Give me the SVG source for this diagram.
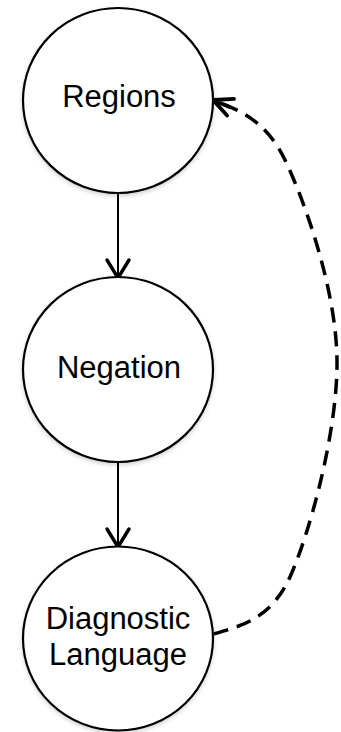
<svg xmlns="http://www.w3.org/2000/svg" width="341" height="732" viewBox="0 0 341 732">
<style>
.node{fill:#fff;stroke:#000;stroke-width:2.2;filter:url(#sh)}
.lbl{font-family:"Liberation Sans",Arial,Helvetica,sans-serif;font-size:31px;fill:#000;text-anchor:middle}
.edge{fill:none;stroke:#000;stroke-width:2}
.dash{fill:none;stroke:#000;stroke-width:3.5;stroke-dasharray:15 9}
</style>
<defs>
<filter id="sh" x="-20%" y="-20%" width="140%" height="140%">
<feDropShadow dx="0" dy="2" stdDeviation="2" flood-color="#000" flood-opacity="0.18"/>
</filter>
<marker id="arr" markerUnits="userSpaceOnUse" viewBox="-22 -14 26 28" refX="0" refY="0" markerWidth="26" markerHeight="28" orient="auto">
<path d="M-18,-11 L0,0 L-18,11" fill="none" stroke="#000" stroke-width="3.4" stroke-linecap="round" stroke-linejoin="round"/>
</marker>
<marker id="arr2" markerUnits="userSpaceOnUse" viewBox="-24 -14 28 28" refX="0" refY="0" markerWidth="28" markerHeight="28" orient="auto">
<path d="M-19,-9 L0,0 L-19,9 M-18,0 L0,0" fill="none" stroke="#000" stroke-width="3.8" stroke-linecap="round" stroke-linejoin="round"/>
</marker>
</defs>
<g id="connectors">
<path class="edge" d="M118,193 L118,278" marker-end="url(#arr)"/>
<path class="edge" d="M118,462 L118,547" marker-end="url(#arr)"/>
<path class="dash" d="M214,634 C234,627 269.5,622.7 290,577 C310.5,531.3 337.8,429.5 337,360 C336.2,290.5 305.7,203.3 285,160 C264.3,116.7 233,108.3 213,100" marker-end="url(#arr2)"/>
</g>
<g id="regions">
<ellipse class="node" cx="118" cy="100.5" rx="95" ry="92.5"/>
<text class="lbl" x="119" y="107">Regions</text>
</g>
<g id="negation">
<ellipse class="node" cx="118" cy="369.5" rx="95" ry="92.5"/>
<text class="lbl" x="119" y="378">Negation</text>
</g>
<g id="diagnostic-language">
<ellipse class="node" cx="118" cy="638.5" rx="95" ry="92"/>
<text class="lbl" x="118" y="629">Diagnostic</text>
<text class="lbl" x="118" y="665">Language</text>
</g>
</svg>
